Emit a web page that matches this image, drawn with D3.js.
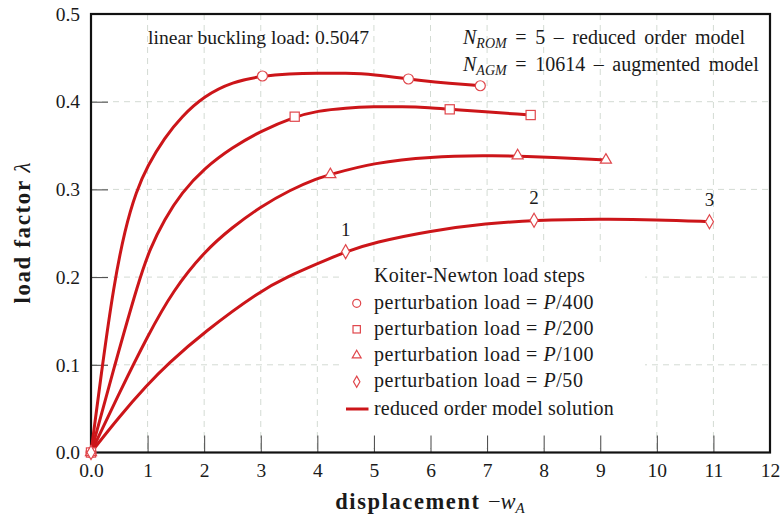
<!DOCTYPE html>
<html>
<head>
<meta charset="utf-8">
<script src="https://cdn.jsdelivr.net/npm/d3@7"></script>
<style>
  html, body { margin: 0; padding: 0; background: #fff; }
  svg { display: block; }
  text { font-family: "Liberation Serif", "DejaVu Serif", serif; fill: #1a1a1a; }
</style>
</head>
<body>
<svg id="chart" width="783" height="520"></svg>
<script>
// ---------- data ----------
const xTicks = [0,1,2,3,4,5,6,7,8,9,10,11,12];
const xTickLabels = ["0.0","1","2","3","4","5","6","7","8","9","10","11","12"];
const yTicks = [0,0.1,0.2,0.3,0.4,0.5];
const yTickLabels = ["0.0","0.1","0.2","0.3","0.4","0.5"];

// reduced order model solution curves (displacement, load factor)
const curveP400 = [[0,0],[0.2,0.099],[0.4,0.19],[0.6,0.255],[0.8,0.298],[1,0.327],[1.3,0.359],[1.6,0.383],[2,0.4065],[2.5,0.4228],[3.03,0.4293],[3.5,0.4318],[4,0.4326],[4.5,0.4325],[5,0.4312],[5.61,0.4259],[6,0.4228],[6.88,0.4182]];
const curveP200 = [[0,0],[0.42,0.1],[0.85,0.197],[1.04,0.232],[1.3,0.266],[1.6,0.296],[2,0.324],[2.5,0.348],[3,0.3665],[3.6,0.3829],[4,0.3895],[4.5,0.393],[5,0.3943],[5.5,0.3945],[6,0.3932],[6.34,0.3913],[7.77,0.3848]];
const curveP100 = [[0,0],[0.5,0.068],[1,0.133],[1.455,0.1853],[2,0.229],[2.5,0.257],[3,0.2803],[3.52,0.2995],[4,0.3125],[4.23,0.317],[5,0.3305],[6,0.3373],[7,0.3385],[7.54,0.3384],[9.1,0.3335]];
const curveP50  = [[0,0],[0.5,0.041],[1,0.0775],[1.34,0.1],[2,0.1375],[3,0.1847],[3.46,0.2],[4,0.2152],[4.5,0.229],[5,0.2395],[6,0.2529],[7,0.2613],[7.83,0.2648],[9,0.2662],[10,0.2655],[10.93,0.2632]];

// Koiter-Newton load steps (markers)
const stepsP400 = [[0,0],[3.03,0.4293],[5.61,0.4259],[6.88,0.4182]];
const stepsP200 = [[0,0],[3.6,0.3829],[6.34,0.3913],[7.77,0.3848]];
const stepsP100 = [[0,0],[4.23,0.317],[7.54,0.3384],[9.1,0.3335]];
const stepsP50  = [[0,0],[4.5,0.229],[7.83,0.2648],[10.93,0.2632]];
const stepLabels = ["1","2","3"];

const legendTitle = "Koiter-Newton load steps";
const legendLabels = ["P/400","P/200","P/100","P/50"];

// ---------- layout ----------
const svg = d3.select("#chart");
const M = {left: 91, top: 14, right: 13, bottom: 67.5};
const W = 783 - M.left - M.right;
const H = 520 - M.top - M.bottom;
const red = "#cc1519";
const mred = "#e0474c";

const x = d3.scaleLinear().domain([0,12]).range([0, W]);
const y = d3.scaleLinear().domain([0,0.5]).range([H, 0]);

svg.append("rect").attr("width",783).attr("height",520).attr("fill","#fff");
const g = svg.append("g").attr("transform",`translate(${M.left},${M.top})`);

// grid
const gridColor = "#d3dbd3";
g.append("g").selectAll("line").data(xTicks.slice(1,-1)).join("line")
  .attr("x1",d=>x(d)).attr("x2",d=>x(d)).attr("y1",0).attr("y2",H)
  .attr("stroke",gridColor).attr("stroke-width",1).attr("stroke-dasharray","6,5");
g.append("g").selectAll("line").data(yTicks.slice(1,-1)).join("line")
  .attr("y1",d=>y(d)).attr("y2",d=>y(d)).attr("x1",0).attr("x2",W)
  .attr("stroke",gridColor).attr("stroke-width",1).attr("stroke-dasharray","6,5");

// legend background (hides grid)
const lg = g.append("g");
lg.append("rect").attr("x",340-M.left).attr("y",262-M.top).attr("width",305).attr("height",186).attr("fill","#fff");

// axes (ticks inward)
const xAxis = d3.axisBottom(x).tickValues(xTicks).tickSize(-17).tickPadding(22).tickFormat((d,i)=>xTickLabels[i]);
const yAxis = d3.axisLeft(y).tickValues(yTicks).tickSize(-17).tickPadding(28).tickFormat((d,i)=>yTickLabels[i]);
const gx = g.append("g").attr("transform",`translate(0,${H})`).call(xAxis);
const gy = g.append("g").call(yAxis);
[gx,gy].forEach(a=>{
  a.select(".domain").remove();
  a.selectAll(".tick line").attr("stroke","#444").attr("stroke-width",1);
  a.selectAll(".tick text").style("font-family",'"Liberation Serif", serif').style("font-size","19.5px").attr("fill","#1a1a1a");
});
gx.selectAll(".tick line").filter(d=>d===0||d===12).remove();
gy.selectAll(".tick line").filter(d=>d===0||d===0.5).remove();
gx.selectAll(".tick text").attr("dy","0.15em");
gy.selectAll(".tick text").attr("text-anchor","end").attr("x",-11);

// frame
g.append("rect").attr("x",0).attr("y",0).attr("width",W).attr("height",H)
  .attr("fill","none").attr("stroke","#111").attr("stroke-width",2.2);

// curves
const line = d3.line().x(d=>x(d[0])).y(d=>y(d[1])).curve(d3.curveBasis);
[curveP400,curveP200,curveP100,curveP50].forEach(c=>{
  g.append("path").datum(c).attr("d",line).attr("fill","none").attr("stroke",red).attr("stroke-width",3);
});

// marker symbols
function drawMarker(sel, type, cx, cy, s) {
  let el;
  if (type==="circle") {
    el = sel.append("circle").attr("cx",cx).attr("cy",cy).attr("r",5*s);
  } else if (type==="square") {
    el = sel.append("rect").attr("x",cx-4.6*s).attr("y",cy-4.6*s).attr("width",9.2*s).attr("height",9.2*s);
  } else if (type==="triangle") {
    const r=6.4*s;
    el = sel.append("path").attr("d",`M${cx},${cy-r}L${cx+r*0.866},${cy+r*0.5}L${cx-r*0.866},${cy+r*0.5}Z`);
  } else {
    el = sel.append("path").attr("d",`M${cx},${cy-7*s}L${cx+4*s},${cy}L${cx},${cy+7*s}L${cx-4*s},${cy}Z`);
  }
  el.attr("fill","#fff").attr("stroke",mred).attr("stroke-width",1.2);
}
const markerSets = [[stepsP400,"circle"],[stepsP200,"square"],[stepsP100,"triangle"],[stepsP50,"diamond"]];
markerSets.forEach(([pts,type])=>{
  const mg = g.append("g");
  pts.forEach(p=>drawMarker(mg,type,x(p[0]),y(p[1]),1));
});

// step labels
g.append("g").selectAll("text").data(stepsP50.slice(1)).join("text")
  .attr("x",d=>x(d[0])).attr("y",d=>y(d[1])-16).attr("text-anchor","middle")
  .style("font-size","19px").text((d,i)=>stepLabels[i]);

// legend
const LX = 374 - M.left;
const LFS = "20px";
lg.append("text").attr("x",LX).attr("y",281.7-M.top).style("font-size",LFS).style("letter-spacing","0.25px").text(legendTitle);
const rowsY = [303.3,329.3,355.3,381.7];
const types = ["circle","square","triangle","diamond"];
rowsY.forEach((ry,i)=>{
  drawMarker(lg,types[i],356.7-M.left,ry-M.top,0.8);
  const t = lg.append("text").attr("x",LX).attr("y",ry+5.5-M.top).style("font-size",LFS).style("letter-spacing","0.55px");
  t.append("tspan").text("perturbation load = ");
  t.append("tspan").style("font-style","italic").text(legendLabels[i].split("/")[0]);
  t.append("tspan").text("/" + legendLabels[i].split("/")[1]);
});
lg.append("line").attr("x1",346-M.left).attr("x2",368.5-M.left).attr("y1",409-M.top).attr("y2",409-M.top)
  .attr("stroke",red).attr("stroke-width",3);
lg.append("text").attr("x",LX).attr("y",414.5-M.top).style("font-size",LFS).style("letter-spacing","0.18px").text("reduced order model solution");

// annotations
svg.append("text").attr("x",148).attr("y",44.3).style("font-size","19.6px").text("linear buckling load: 0.5047");
function nLine(yy, sub, rest) {
  const t = svg.append("text").attr("x",463).attr("y",yy).style("font-size","20px").style("word-spacing","3.6px");
  t.append("tspan").style("font-style","italic").text("N");
  t.append("tspan").style("font-style","italic").style("font-size","14px").attr("dy",4).text(sub);
  t.append("tspan").attr("dy",-4).text(rest);
}
nLine(44.3,"ROM"," = 5 – reduced order model");
nLine(71,"AGM"," = 10614 – augmented model");

// axis titles
const xt = svg.append("text").attr("x",430).attr("y",509).attr("text-anchor","middle").style("font-size","22.5px");
xt.append("tspan").style("font-weight","bold").style("letter-spacing","1.6px").text("displacement ");
xt.append("tspan").text("−");
xt.append("tspan").style("font-style","italic").text("w");
xt.append("tspan").style("font-style","italic").style("font-size","15px").attr("dy",4).text("A");

const yt = svg.append("text").attr("transform","translate(30,233) rotate(-90)").attr("text-anchor","middle").style("font-size","23px");
yt.append("tspan").style("font-weight","bold").style("letter-spacing","1.6px").text("load factor ");
yt.append("tspan").style("font-style","italic").text("λ");
</script>
</body>
</html>
